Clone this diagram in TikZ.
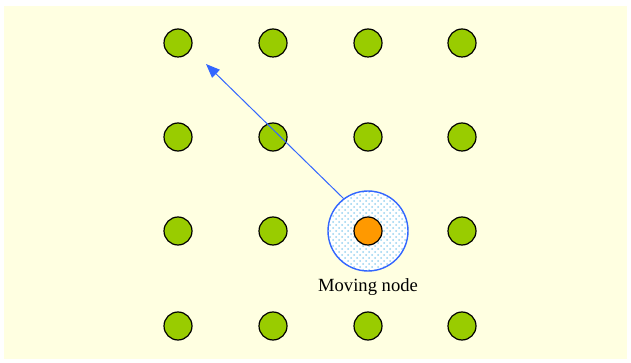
\documentclass[tikz,border=0pt]{standalone}
\usepackage{fontspec}
\setmainfont{Liberation Serif}
\usepackage{tikz}
\usetikzlibrary{arrows.meta,positioning,patterns}
\definecolor{paperYellow}{RGB}{255,255,225}
\definecolor{nodeGreen}{RGB}{153,204,0}
\definecolor{nodeOrange}{RGB}{255,153,0}
\definecolor{rangeBlue}{RGB}{51,102,255}
\definecolor{dotBlue}{RGB}{150,210,240}

\begin{document}
\begin{tikzpicture}[x=0.5pt,y=-0.5pt,
    sensor/.style={circle, draw=black, line width=0.6pt, fill=nodeGreen,
      minimum size=14pt, inner sep=0pt},
    mobile/.style={sensor, fill=nodeOrange},
    coverage/.style={circle, draw=rangeBlue, line width=0.7pt,
      preaction={fill=white}, pattern=crosshatch dots, pattern color=dotBlue,
      minimum size=40pt, inner sep=0pt}]
  % Background
  \useasboundingbox (0,0) rectangle (631,363);
  \fill[paperYellow] (4,6) rectangle (627,359);
  % Static sensor grid
  \foreach \c/\x in {1/178,2/273,3/368,4/462} {
    \foreach \r/\y in {1/43,2/137,3/231,4/326} {
      \ifnum\c\r=33 \else
        \node[sensor] (n-\c-\r) at (\x,\y) {};
      \fi
    }
  }
  % Moving node with its range
  \node[coverage] (halo) at (368,231) {};
  \node[mobile] (n-3-3) at (halo.center) {};
  \node[font=\fontsize{9.3}{11}\selectfont, below=0pt of halo] (label) {Moving node};
  % Direction of motion
  \coordinate (target) at (206,64);
  \draw[-{Triangle[length=7pt,width=5.5pt]}, rangeBlue, line width=0.5pt]
    (halo.127) -- (target);
\end{tikzpicture}
\end{document}
